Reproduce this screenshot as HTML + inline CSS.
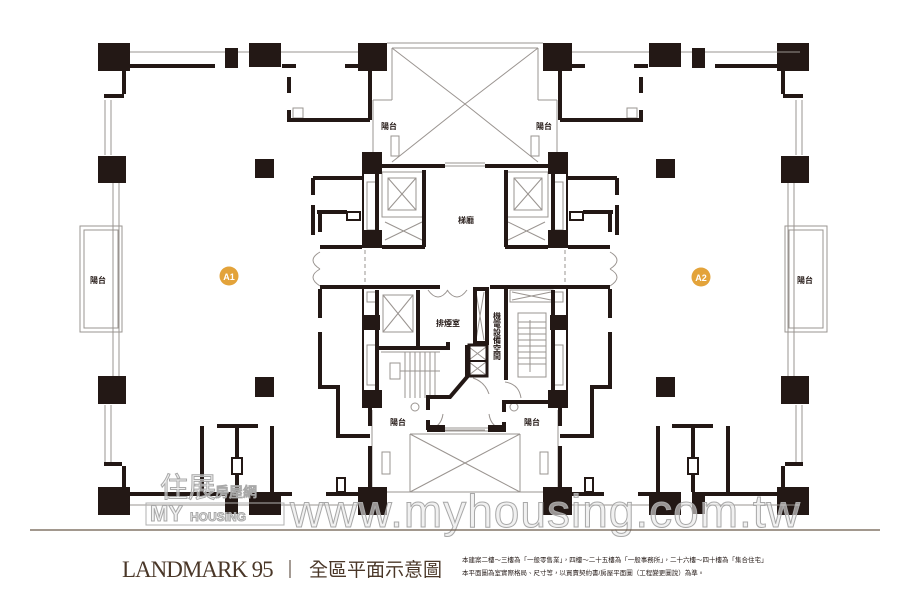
<!DOCTYPE html>
<html><head><meta charset="utf-8"><style>
html,body{margin:0;padding:0;background:#fff;}
svg{display:block;}
</style></head><body>
<svg width="900" height="600" viewBox="0 0 900 600" xmlns="http://www.w3.org/2000/svg" font-family="'Liberation Sans','Noto Sans CJK TC',sans-serif">
<rect width="900" height="600" fill="#fff"/>
<defs>
<g id="outer">
  <g stroke="#9a9490" stroke-width="1" fill="none">
    <line x1="105" y1="100" x2="105" y2="155"/>
    <line x1="111" y1="100" x2="111" y2="155"/>
    <line x1="113" y1="183" x2="113" y2="376"/>
    <line x1="119" y1="183" x2="119" y2="376"/>
    <rect x="80" y="226" width="42" height="106"/>
    <rect x="84" y="230" width="34" height="98"/>
    <line x1="105" y1="405" x2="105" y2="462"/>
    <line x1="111" y1="405" x2="111" y2="462"/>
  </g>
  <g stroke="#231815" stroke-width="4" fill="none">
    <line x1="124" y1="71" x2="124" y2="94"/>
    <line x1="104" y1="96" x2="124" y2="96"/>
    <line x1="104" y1="464" x2="122" y2="464"/>
    <line x1="124" y1="466" x2="124" y2="487"/>
  </g>
  <g fill="#231815">
    <rect x="98" y="43" width="32" height="28"/>
    <rect x="98" y="156" width="28" height="27"/>
    <rect x="98" y="376" width="28" height="28"/>
    <rect x="98" y="487" width="32" height="28"/>
  </g>
</g>
<g id="inner">
  <g stroke="#9a9490" stroke-width="1" fill="none">
    <line x1="130" y1="52" x2="249" y2="52"/>
    <line x1="281" y1="52" x2="358" y2="52"/>
    <line x1="130" y1="505" x2="358" y2="505"/>
    <!-- top central -->
    <line x1="387" y1="43" x2="465" y2="43"/>
    <line x1="392" y1="48" x2="392" y2="100"/>
    <line x1="392" y1="48" x2="465" y2="48"/>
    <line x1="392" y1="48" x2="465" y2="104"/>
    <line x1="392" y1="162" x2="465" y2="104"/>
    <line x1="373" y1="100" x2="373" y2="152"/>
    <line x1="373" y1="100" x2="392" y2="100"/>
    <rect x="391" y="136" width="8" height="20"/>
    <!-- bottom central -->
    <line x1="410" y1="434" x2="465" y2="434"/>
    <line x1="410" y1="434" x2="410" y2="492"/>
    <line x1="410" y1="434" x2="465" y2="463"/>
    <line x1="410" y1="492" x2="465" y2="463"/>
    <line x1="387" y1="492" x2="465" y2="492"/>
    <line x1="372" y1="410" x2="372" y2="490"/>
    <rect x="382" y="452" width="8" height="22"/>
    <!-- upper elevator -->
    <rect x="382" y="172" width="41" height="45"/>
    <rect x="388" y="178" width="28" height="32"/>
    <line x1="388" y1="178" x2="416" y2="210"/><line x1="416" y1="178" x2="388" y2="210"/>
    <line x1="385" y1="222" x2="422" y2="240"/><line x1="385" y1="240" x2="422" y2="222"/>
    <line x1="365" y1="250" x2="365" y2="286" stroke-dasharray="4 3"/>
    <path d="M320 252 q-14 8 0 17 M320 269 q-14 8 0 17"/>
    <rect x="367" y="182" width="10" height="48"/>
    <rect x="367" y="345" width="10" height="40"/>
    <rect x="293" y="108" width="10" height="10"/>
    <rect x="367" y="292" width="10" height="10"/>
    <line x1="445" y1="166" x2="465" y2="166"/>
    <line x1="445" y1="163" x2="465" y2="163"/>
    <line x1="445" y1="430" x2="465" y2="430"/>
  </g>
  <g stroke="#231815" stroke-width="4" fill="none">
    <line x1="130" y1="66" x2="215" y2="66"/>
    <line x1="282" y1="66" x2="296" y2="66"/>
    <line x1="345" y1="66" x2="358" y2="66"/>
    <polyline points="289,77 289,93"/>
    <polyline points="289,110 289,120 370,120"/>
    <line x1="370" y1="68" x2="370" y2="120"/>
    <line x1="313" y1="178" x2="362" y2="178"/>
    <line x1="313" y1="178" x2="313" y2="195"/>
    <line x1="313" y1="205" x2="313" y2="235"/>
    <line x1="317" y1="212" x2="347" y2="212"/>
    <line x1="320" y1="212" x2="320" y2="232"/>
    <line x1="320" y1="247" x2="362" y2="247"/>
    <line x1="382" y1="247" x2="425" y2="247"/>
    <line x1="382" y1="166" x2="445" y2="166"/>
    <line x1="424" y1="170" x2="424" y2="247"/>
    <line x1="377" y1="172" x2="377" y2="247"/>
    <line x1="320" y1="287" x2="440" y2="287"/>
    <line x1="320" y1="289" x2="320" y2="318"/>
    <polyline points="320,332 320,387 338,387 338,436 370,436"/>
    <line x1="370" y1="408" x2="370" y2="426"/>
    <line x1="370" y1="446" x2="370" y2="490"/>
    <line x1="202" y1="426" x2="202" y2="492"/>
    <line x1="272" y1="426" x2="272" y2="492"/>
    <line x1="217" y1="426" x2="258" y2="426"/>
    <line x1="237" y1="426" x2="237" y2="492"/>
    <line x1="130" y1="494" x2="225" y2="494"/>
    <line x1="281" y1="494" x2="292" y2="494"/>
    <line x1="326" y1="494" x2="358" y2="494"/>
  </g>
  <rect x="347" y="212" width="13" height="8" fill="#fff" stroke="#231815" stroke-width="2"/>
  <rect x="232" y="458" width="10" height="16" fill="#fff" stroke="#231815" stroke-width="2"/>
  <rect x="337" y="478" width="8" height="14" fill="#fff" stroke="#231815" stroke-width="2"/>
  <g fill="#231815">
    <rect x="249" y="43" width="32" height="24"/>
    <rect x="358" y="43" width="29" height="28"/>
    <rect x="225" y="48" width="13" height="20"/>
    <rect x="225" y="492" width="13" height="22"/>
    <rect x="249" y="492" width="32" height="23"/>
    <rect x="358" y="487" width="29" height="28"/>
    <rect x="255" y="159" width="19" height="19"/>
    <rect x="255" y="377" width="19" height="20"/>
    <rect x="362" y="152" width="20" height="22"/>
    <rect x="362" y="230" width="20" height="18"/>
    <rect x="362" y="315" width="18" height="15"/>
    <rect x="362" y="390" width="20" height="18"/>
  </g>
  <g stroke="#231815" stroke-width="2">
    <line x1="363" y1="174" x2="363" y2="230"/>
    <line x1="363" y1="288" x2="363" y2="390"/>
  </g>
</g>
</defs>
<use href="#outer"/>
<use href="#outer" transform="translate(907,0) scale(-1,1)"/>
<use href="#inner"/>
<use href="#inner" transform="translate(930,0) scale(-1,1)"/>

<!-- lower core (asymmetric) -->
<g stroke="#9a9490" stroke-width="1" fill="none">
  <rect x="383" y="295" width="30" height="37"/>
  <line x1="383" y1="295" x2="413" y2="332"/><line x1="413" y1="295" x2="383" y2="332"/>
  <line x1="381" y1="352" x2="440" y2="352"/>
  <rect x="390" y="363" width="10" height="16"/>
  <line x1="405" y1="352" x2="405" y2="398"/><line x1="410" y1="352" x2="410" y2="398"/>
  <line x1="415" y1="352" x2="415" y2="398"/><line x1="420" y1="352" x2="420" y2="398"/>
  <line x1="425" y1="352" x2="425" y2="398"/><line x1="430" y1="352" x2="430" y2="398"/>
  <line x1="435" y1="352" x2="435" y2="398"/>
  <line x1="400" y1="371" x2="440" y2="371"/>
  <line x1="476" y1="292" x2="484" y2="340"/><line x1="484" y1="292" x2="476" y2="340"/>
  <line x1="469" y1="347" x2="486" y2="360"/><line x1="486" y1="347" x2="469" y2="360"/>
  <line x1="469" y1="362" x2="486" y2="375"/><line x1="486" y1="362" x2="469" y2="375"/>
  <path d="M428 290 q10 14 20 0 M447 290 q10 14 20 0"/>
  <path d="M473 378 q12 4 16 16"/>
  <rect x="510" y="290" width="43" height="12"/>
  <line x1="512" y1="292" x2="551" y2="300"/><line x1="512" y1="300" x2="551" y2="292"/>
  <rect x="518" y="313" width="28" height="64"/>
  <line x1="518" y1="322" x2="546" y2="322"/><line x1="518" y1="328" x2="546" y2="328"/>
  <line x1="518" y1="334" x2="546" y2="334"/><line x1="518" y1="340" x2="546" y2="340"/>
  <line x1="518" y1="346" x2="546" y2="346"/><line x1="518" y1="352" x2="546" y2="352"/>
  <line x1="518" y1="358" x2="546" y2="358"/><line x1="518" y1="364" x2="546" y2="364"/>
  <line x1="530" y1="320" x2="530" y2="372"/>
  <path d="M505 382 q14 2 16 16"/>
  <path d="M427 430 q14 -2 16 -16 M505 430 q-14 -2 -16 -16"/>
  <circle cx="415" cy="407" r="4"/><circle cx="514" cy="407" r="4"/>
  <line x1="443" y1="428" x2="490" y2="428"/><line x1="443" y1="431" x2="490" y2="431"/>
</g>
<g stroke="#231815" stroke-width="4" fill="none">
  <line x1="377" y1="290" x2="377" y2="398"/>
  <line x1="418" y1="290" x2="418" y2="348"/>
  <polyline points="377,348 448,348 448,342"/>
  <polyline points="467,345 467,377 450,397 428,397 428,410"/>
  <line x1="428" y1="420" x2="428" y2="430"/>
  <rect x="475" y="289" width="12" height="54"/>
  <rect x="469" y="345" width="18" height="31" stroke-width="3"/>
  <line x1="469" y1="361" x2="487" y2="361" stroke-width="2"/>
  <line x1="506" y1="289" x2="506" y2="380"/>
  <polyline points="553,402 504,402 504,412"/>
  <line x1="504" y1="422" x2="504" y2="430"/>
  <line x1="553" y1="290" x2="553" y2="390"/>
</g>
<g fill="#231815">
  <rect x="427" y="425" width="18" height="7"/>
  <rect x="488" y="425" width="18" height="7"/>
</g>

<!-- labels -->
<g font-size="8" fill="#231815" font-weight="bold">
  <text x="381" y="129">陽台</text>
  <text x="536" y="129">陽台</text>
  <text x="390" y="425">陽台</text>
  <text x="524" y="425">陽台</text>
  <text x="90" y="283">陽台</text>
  <text x="797" y="283">陽台</text>
  <text x="458" y="223">梯廳</text>
  <text x="436" y="326">排煙室</text>
</g>
<text font-size="8" fill="#231815" font-weight="bold" x="497" y="312" writing-mode="tb">機電設備空間</text>
<g font-size="9" font-weight="bold" fill="#fff" text-anchor="middle">
  <circle cx="229" cy="276" r="9.5" fill="#e3a33a"/><text x="229" y="280">A1</text>
  <circle cx="701" cy="277" r="9.5" fill="#e3a33a"/><text x="701" y="281">A2</text>
</g>

<!-- watermark -->
<g fill="#e8e8e8" fill-opacity="0.6" stroke="#a8a8a8" stroke-width="1">
  <text x="290" y="527" font-size="46" letter-spacing="1">www.myhousing.com.tw</text>
  <text x="150" y="521" font-size="22" font-weight="bold">MY</text>
  <text x="190" y="521" font-size="12" font-weight="bold">HOUSING</text>
  <text x="160" y="497" font-size="28">住展</text>
  <text x="215" y="497" font-size="14">房屋網</text>
</g>
<rect x="146" y="503" width="138" height="22" fill="none" stroke="#b0b0b0" stroke-width="1"/>

<line x1="30" y1="530" x2="880" y2="530" stroke="#6b5a4a" stroke-width="1.2"/>
<text x="122" y="577" font-family="'Liberation Serif',serif" font-size="23" fill="#4a3728" letter-spacing="-1">LANDMARK 95</text>
<line x1="290" y1="560" x2="290" y2="578" stroke="#4a3728" stroke-width="1"/>
<text x="309" y="576" font-family="'Liberation Sans','Noto Sans CJK TC',sans-serif" font-size="19" fill="#4a3728">全區平面示意圖</text>
<g font-size="6.5" fill="#231815" font-family="'Liberation Sans','Noto Sans CJK TC',sans-serif">
  <text x="462" y="562">本建案二樓～三樓為「一般零售業」，四樓～二十五樓為「一般事務所」，二十六樓～四十樓為「集合住宅」</text>
  <text x="462" y="575">本平面圖為室實際格局、尺寸等，以買賣契約書/房屋平面圖（工程變更圖說）為準。</text>
</g>
</svg>
</body></html>
